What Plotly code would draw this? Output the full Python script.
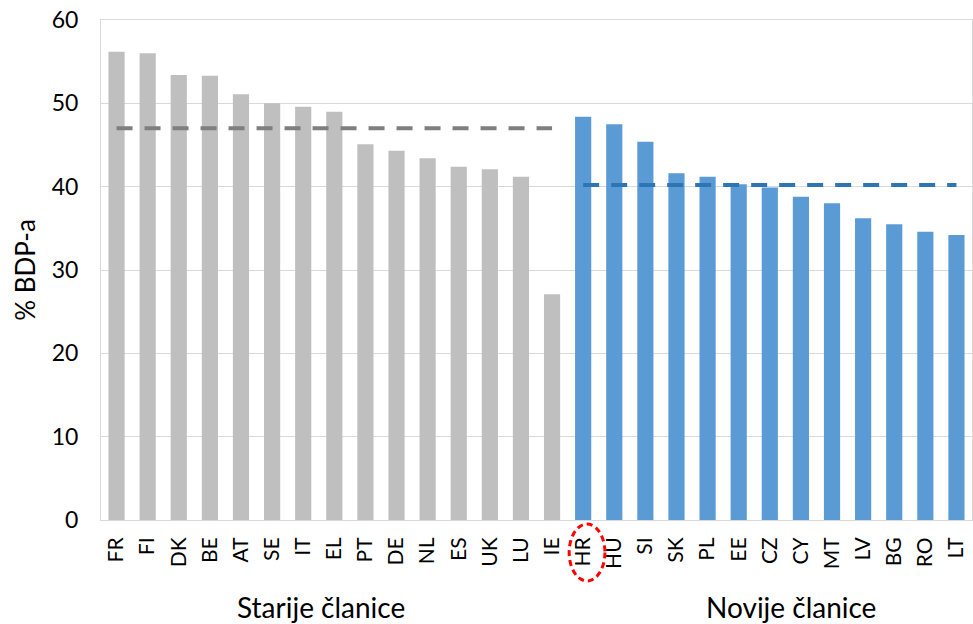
import plotly.graph_objects as go

old_members = ["FR", "FI", "DK", "BE", "AT", "SE", "IT", "EL", "PT", "DE", "NL", "ES", "UK", "LU", "IE"]
old_values = [56.2, 56.0, 53.4, 53.3, 51.1, 50.0, 49.6, 49.0, 45.1, 44.3, 43.4, 42.4, 42.1, 41.2, 27.1]
new_members = ["HR", "HU", "SI", "SK", "PL", "EE", "CZ", "CY", "MT", "LV", "BG", "RO", "LT"]
new_values = [48.4, 47.5, 45.4, 41.6, 41.2, 40.3, 39.9, 38.8, 38.0, 36.2, 35.5, 34.6, 34.2]
old_avg = 47.0
new_avg = 40.2

categories = old_members + new_members
font_family = "Lato, 'Open Sans', sans-serif"

fig = go.Figure()

fig.add_trace(go.Bar(x=old_members, y=old_values, marker_color="#bfbfbf",
                     marker_line_width=0, showlegend=False))
fig.add_trace(go.Bar(x=new_members, y=new_values, marker_color="#5b9bd5",
                     marker_line_width=0, showlegend=False))

# average lines for each group
fig.add_trace(go.Scatter(x=old_members, y=[old_avg] * len(old_members), mode="lines",
                         line=dict(color="#7f7f7f", width=4, dash="16px,12px"),
                         showlegend=False))
fig.add_trace(go.Scatter(x=new_members, y=[new_avg] * len(new_members), mode="lines",
                         line=dict(color="#2e75b6", width=4, dash="16px,12px"),
                         showlegend=False))

# red dashed ellipse around HR label
fig.add_shape(type="circle", xref="x", yref="paper",
              x0=14.55, x1=15.7, y0=-0.122, y1=-0.008,
              line=dict(color="#ff0000", width=3, dash="6px,4px"))

fig.add_annotation(text="Starije članice", xref="paper", yref="paper",
                   x=0.253, y=-0.174, showarrow=False, xanchor="center", yanchor="middle",
                   font=dict(size=28, color="#000000", family=font_family))
fig.add_annotation(text="Novije članice", xref="paper", yref="paper",
                   x=0.792, y=-0.174, showarrow=False, xanchor="center", yanchor="middle",
                   font=dict(size=28, color="#000000", family=font_family))

fig.update_layout(
    width=973, height=624,
    margin=dict(l=101, r=1, t=20, b=104),
    plot_bgcolor="white", paper_bgcolor="white",
    bargap=0.48,
    font=dict(family=font_family, color="#000000"),
    xaxis=dict(categoryorder="array", categoryarray=categories,
               tickangle=-90, tickfont=dict(size=21), automargin=False,
               ticklabelstandoff=8,
               showline=True, linecolor="#d9d9d9", linewidth=1, mirror=True,
               ticks="", range=[-0.5, len(categories) - 0.5]),
    yaxis=dict(range=[0, 60], dtick=10, tickfont=dict(size=23), automargin=False,
               ticklabelstandoff=17,
               title=dict(text="% BDP-a", font=dict(size=26), standoff=8),
               showgrid=True, gridcolor="#d9d9d9", gridwidth=1,
               showline=True, linecolor="#d9d9d9", linewidth=1, mirror=True,
               zeroline=False, ticks="", ticklen=0),
)

# drop the default 8px body margin so the figure fills the window
fig.write_html("out.html", config={"displayModeBar": False},
               post_script="document.body.style.margin='0';")
